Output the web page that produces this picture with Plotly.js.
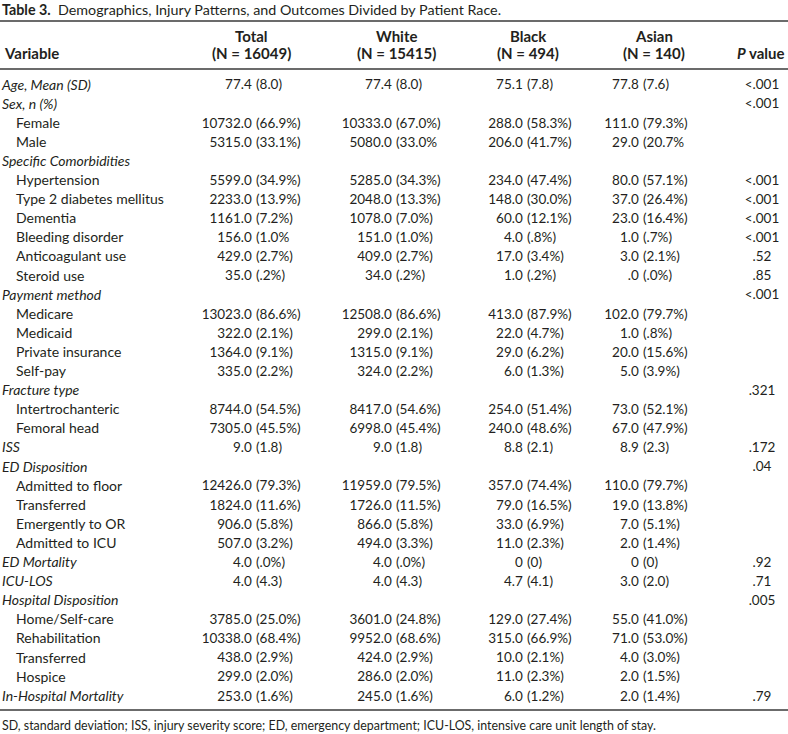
<!DOCTYPE html>
<html><head><meta charset="utf-8">
<script src="https://cdn.plot.ly/plotly-3.0.1.min.js"></script>
<style>html,body{margin:0;padding:0;background:#fff}</style>
</head><body><div id="chart" style="width:788px;height:734px"></div>
<script>
const variables = ["Age, Mean (SD)","Sex, n (%)","Female","Male","Specific Comorbidities","Hypertension","Type 2 diabetes mellitus","Dementia","Bleeding disorder","Anticoagulant use","Steroid use","Payment method","Medicare","Medicaid","Private insurance","Self-pay","Fracture type","Intertrochanteric","Femoral head","ISS","ED Disposition","Admitted to floor","Transferred","Emergently to OR","Admitted to ICU","ED Mortality","ICU-LOS","Hospital Disposition","Home/Self-care","Rehabilitation","Transferred","Hospice","In-Hospital Mortality"];
const isGroupRow = [true,true,false,false,true,false,false,false,false,false,false,true,false,false,false,false,true,false,false,true,true,false,false,false,false,true,true,true,false,false,false,false,true];
const columnNames = ["Total","White","Black","Asian"];
const columnNs = [16049, 15415, 494, 140];
const totalVals = ["77.4 (8.0)","","10732.0 (66.9%)","5315.0 (33.1%)","","5599.0 (34.9%)","2233.0 (13.9%)","1161.0 (7.2%)","156.0 (1.0%","429.0 (2.7%)","35.0 (.2%)","","13023.0 (86.6%)","322.0 (2.1%)","1364.0 (9.1%)","335.0 (2.2%)","","8744.0 (54.5%)","7305.0 (45.5%)","9.0 (1.8)","","12426.0 (79.3%)","1824.0 (11.6%)","906.0 (5.8%)","507.0 (3.2%)","4.0 (.0%)","4.0 (4.3)","","3785.0 (25.0%)","10338.0 (68.4%)","438.0 (2.9%)","299.0 (2.0%)","253.0 (1.6%)"];
const whiteVals = ["77.4 (8.0)","","10333.0 (67.0%)","5080.0 (33.0%","","5285.0 (34.3%)","2048.0 (13.3%)","1078.0 (7.0%)","151.0 (1.0%)","409.0 (2.7%)","34.0 (.2%)","","12508.0 (86.6%)","299.0 (2.1%)","1315.0 (9.1%)","324.0 (2.2%)","","8417.0 (54.6%)","6998.0 (45.4%)","9.0 (1.8)","","11959.0 (79.5%)","1726.0 (11.5%)","866.0 (5.8%)","494.0 (3.3%)","4.0 (.0%)","4.0 (4.3)","","3601.0 (24.8%)","9952.0 (68.6%)","424.0 (2.9%)","286.0 (2.0%)","245.0 (1.6%)"];
const blackVals = ["75.1 (7.8)","","288.0 (58.3%)","206.0 (41.7%)","","234.0 (47.4%)","148.0 (30.0%)","60.0 (12.1%)","4.0 (.8%)","17.0 (3.4%)","1.0 (.2%)","","413.0 (87.9%)","22.0 (4.7%)","29.0 (6.2%)","6.0 (1.3%)","","254.0 (51.4%)","240.0 (48.6%)","8.8 (2.1)","","357.0 (74.4%)","79.0 (16.5%)","33.0 (6.9%)","11.0 (2.3%)","0 (0)","4.7 (4.1)","","129.0 (27.4%)","315.0 (66.9%)","10.0 (2.1%)","11.0 (2.3%)","6.0 (1.2%)"];
const asianVals = ["77.8 (7.6)","","111.0 (79.3%)","29.0 (20.7%","","80.0 (57.1%)","37.0 (26.4%)","23.0 (16.4%)","1.0 (.7%)","3.0 (2.1%)",".0 (.0%)","","102.0 (79.7%)","1.0 (.8%)","20.0 (15.6%)","5.0 (3.9%)","","73.0 (52.1%)","67.0 (47.9%)","8.9 (2.3)","","110.0 (79.7%)","19.0 (13.8%)","7.0 (5.1%)","2.0 (1.4%)","0 (0)","3.0 (2.0)","","55.0 (41.0%)","71.0 (53.0%)","4.0 (3.0%)","2.0 (1.5%)","2.0 (1.4%)"];
const pValues = ["<.001","<.001","","","","<.001","<.001","<.001","<.001",".52",".85","<.001","","","","",".321","","",".172",".04","","","","",".92",".71",".005","","","","",".79"];

const W = 788, H = 734;
const FONT = "Lato, 'Open Sans', sans-serif";
const INK = "#231f20";
const FS_LABEL = 14, FS_NUM = 13.5, FS_HEAD = 15, FS_TITLE = 14.3, FS_NOTE = 12.4;
// row geometry (pixels)
const ROW0 = 86, ROWH = 19.1;
const yTop = -ROW0 / ROWH, yBot = yTop + H / ROWH;
const py = p => 1 - p / H; // pixel -> paper
const colAnchor = [256, 396, 527, 643];
const colCenter = [251, 396, 528, 654];

const traces = [];
const rows = variables.map((_, i) => i);
traces.push({
  type: 'scatter', mode: 'text', cliponaxis: false, hoverinfo: 'skip',
  x: rows.map(i => isGroupRow[i] ? 2 : 16),
  y: rows,
  text: variables.map((v, i) => isGroupRow[i] ? '<i>' + v + '</i>' : v),
  textposition: 'middle right',
  textfont: {family: FONT, size: FS_LABEL, color: INK}
});
const cols = [totalVals, whiteVals, blackVals, asianVals];
cols.forEach((vals, c) => {
  const idx = rows.filter(i => vals[i] !== '');
  const parts = idx.map(i => { const s = vals[i]; const k = s.indexOf(' '); return k < 0 ? [s, ''] : [s.slice(0, k), s.slice(k + 1)]; });
  traces.push({
    type: 'scatter', mode: 'text', cliponaxis: false, hoverinfo: 'skip',
    x: idx.map(() => colAnchor[c] - 4.2), y: idx,
    text: parts.map(p => p[0]), textposition: 'middle left',
    textfont: {family: FONT, size: FS_NUM, color: INK}
  });
  traces.push({
    type: 'scatter', mode: 'text', cliponaxis: false, hoverinfo: 'skip',
    x: idx.map(() => colAnchor[c]), y: idx,
    text: parts.map(p => p[1]), textposition: 'middle right',
    textfont: {family: FONT, size: FS_NUM, color: INK}
  });
});
const pIdx = rows.filter(i => pValues[i] !== '');
traces.push({
  type: 'scatter', mode: 'text', cliponaxis: false, hoverinfo: 'skip',
  x: pIdx.map(() => 762), y: pIdx,
  text: pIdx.map(i => pValues[i]), textposition: 'middle center',
  textfont: {family: FONT, size: FS_NUM, color: INK}
});

const ann = [];
const font = sz => ({family: FONT, size: sz, color: INK});
ann.push({xref: 'paper', yref: 'paper', x: 0, y: py(9), xanchor: 'left', yanchor: 'middle', showarrow: false,
  text: '<b>Table 3.</b>  Demographics, Injury Patterns, and Outcomes Divided by Patient Race.', font: font(FS_TITLE)});
ann.push({xref: 'x', yref: 'paper', x: 2, y: py(53), xanchor: 'left', yanchor: 'middle', showarrow: false,
  text: '<b>Variable</b>', font: font(FS_HEAD)});
columnNames.forEach((n, c) => {
  ann.push({xref: 'x', yref: 'paper', x: colCenter[c], y: py(36), xanchor: 'center', yanchor: 'middle', showarrow: false,
    text: '<b>' + n + '</b>', font: font(FS_HEAD)});
  ann.push({xref: 'x', yref: 'paper', x: colCenter[c], y: py(53), xanchor: 'center', yanchor: 'middle', showarrow: false,
    text: '<b>(N = ' + columnNs[c] + ')</b>', font: font(FS_HEAD)});
});
ann.push({xref: 'x', yref: 'paper', x: 787, y: py(53), xanchor: 'right', yanchor: 'middle', showarrow: false,
  text: '<b><i>P</i> value</b>', font: font(FS_HEAD)});
ann.push({xref: 'paper', yref: 'paper', x: 0, y: py(725), xanchor: 'left', yanchor: 'middle', showarrow: false,
  text: 'SD, standard deviation; ISS, injury severity score; ED, emergency department; ICU-LOS, intensive care unit length of stay.', font: font(FS_NOTE)});

const rule = p => ({type: 'line', xref: 'paper', yref: 'paper', x0: 0, x1: 1, y0: py(p), y1: py(p), line: {color: '#3a3a3a', width: 1.4}});

const layout = {
  width: W, height: H, margin: {l: 0, r: 0, t: 0, b: 0},
  paper_bgcolor: '#fff', plot_bgcolor: '#fff', showlegend: false,
  xaxis: {range: [0, W], visible: false, fixedrange: true},
  yaxis: {range: [yBot, yTop], visible: false, fixedrange: true},
  annotations: ann,
  shapes: [rule(21), rule(69), rule(710)]
};
Plotly.newPlot('chart', traces, layout, {staticPlot: true, displayModeBar: false});
</script></body></html>
